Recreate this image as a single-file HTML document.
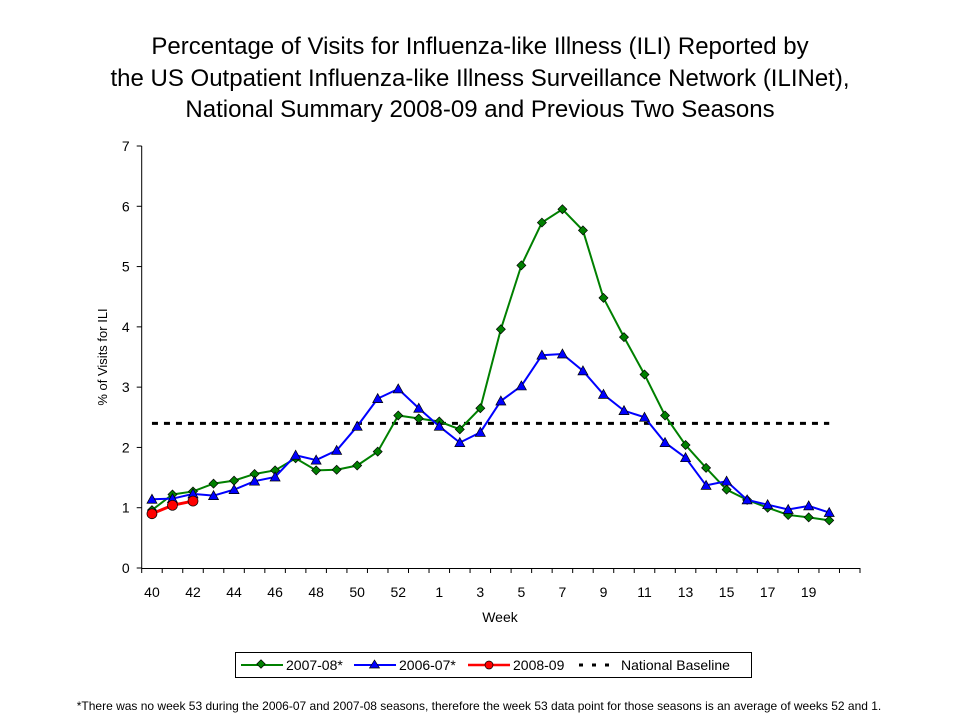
<!DOCTYPE html>
<html><head><meta charset="utf-8"><style>
body{margin:0;background:#fff;font-family:"Liberation Sans",Arial,sans-serif}
svg text{font-family:"Liberation Sans",Arial,sans-serif}
</style></head><body>
<svg id="chart" width="960" height="720">
<text x="480" y="54" font-size="24" text-anchor="middle">Percentage of Visits for Influenza-like Illness (ILI) Reported by</text>
<text x="480" y="86" font-size="24" text-anchor="middle">the US Outpatient Influenza-like Illness Surveillance Network (ILINet),</text>
<text x="480" y="117" font-size="24" text-anchor="middle">National Summary 2008-09 and Previous Two Seasons</text>
<g id="axes"></g>
<g id="marks"></g>
<text x="500" y="622" font-size="14" text-anchor="middle">Week</text>
<text transform="translate(107,357) rotate(-90)" font-size="13" text-anchor="middle">% of Visits for ILI</text>
<g>
<rect x="235.5" y="652.5" width="516" height="25" fill="#fff" stroke="#000"/>
<line x1="241" y1="665" x2="283" y2="665" stroke="#008000" stroke-width="2"/>
<rect x="258" y="661" width="6" height="6" fill="#008000" stroke="#000" stroke-width="0.7" transform="rotate(45 261 664)"/>
<text x="286" y="670" font-size="14">2007-08*</text>
<line x1="354" y1="665" x2="396" y2="665" stroke="#0000ff" stroke-width="2"/>
<polygon points="374.5,660 369.5,668 379.5,668" fill="#0000ff" stroke="#000" stroke-width="0.7"/>
<text x="399" y="670" font-size="14">2006-07*</text>
<line x1="468" y1="665" x2="510" y2="665" stroke="#ff0000" stroke-width="2.5"/>
<circle cx="489" cy="665" r="4" fill="#ff0000" stroke="#000" stroke-width="0.7"/>
<text x="513" y="670" font-size="14">2008-09</text>
<line x1="579" y1="665" x2="617" y2="665" stroke="#000" stroke-width="3" stroke-dasharray="4,9"/>
<text x="621" y="670" font-size="14">National Baseline</text>
</g>
<text x="479" y="710" font-size="12" text-anchor="middle">*There was no week 53 during the 2006-07 and 2007-08 seasons, therefore the week 53 data point for those seasons is an average of weeks 52 and 1.</text>
</svg>
<script>
const weeks=[40,41,42,43,44,45,46,47,48,49,50,51,52,53,1,2,3,4,5,6,7,8,9,10,11,12,13,14,15,16,17,18,19,20];
const season0708=[0.96,1.22,1.27,1.40,1.45,1.56,1.62,1.82,1.62,1.63,1.70,1.93,2.53,2.48,2.43,2.30,2.65,3.96,5.02,5.73,5.95,5.60,4.48,3.83,3.21,2.53,2.04,1.66,1.30,1.13,1.00,0.88,0.84,0.79];
const season0607=[1.14,1.15,1.23,1.20,1.30,1.44,1.51,1.87,1.79,1.95,2.35,2.81,2.97,2.65,2.35,2.08,2.25,2.77,3.02,3.53,3.55,3.27,2.88,2.61,2.50,2.08,1.83,1.37,1.44,1.13,1.05,0.97,1.03,0.92];
const season0809=[0.90,1.04,1.11];
const baseline=2.4;
const yTicks=[0,1,2,3,4,5,6,7];
const nCats=35, plotLeft=141.7, plotRight=860, plotTop=146, plotBottom=568, yMax=7;
const cw=(plotRight-plotLeft)/nCats;
const X=i=>plotLeft+(i+0.5)*cw;
const Y=v=>plotBottom-(v/yMax)*(plotBottom-plotTop);
const NS="http://www.w3.org/2000/svg";
const axesG=document.getElementById('axes'), marksG=document.getElementById('marks');
function mk(tag,attrs,parent){const e=document.createElementNS(NS,tag);for(const k in attrs)e.setAttribute(k,attrs[k]);parent.appendChild(e);return e;}
let el=mk('line',{x1:plotLeft,y1:plotTop,x2:plotLeft,y2:plotBottom,stroke:'#000'},axesG);


el=mk('line',{x1:plotLeft,y1:plotBottom+0.5,x2:plotRight,y2:plotBottom+0.5,stroke:'#000'},axesG);


yTicks.forEach(t=>{
  mk('line',{x1:plotLeft-5,y1:Y(t),x2:plotLeft,y2:Y(t),stroke:'#000'},axesG);
  const tx=mk('text',{x:plotLeft-12,y:Y(t)+5,'font-size':14,'text-anchor':'end'},axesG);
  tx.textContent=t;
  
  
});
for(let i=0;i<=nCats;i++){mk('line',{x1:plotLeft+i*cw,y1:plotBottom,x2:plotLeft+i*cw,y2:plotBottom+5,stroke:'#000'},axesG);}
weeks.forEach((w,i)=>{if(i%2===0){
  const tx=mk('text',{x:X(i),y:plotBottom+29,'font-size':14,'text-anchor':'middle'},axesG);
  tx.textContent=w;
  
  
}});
el=mk('line',{x1:X(0),y1:Y(baseline),x2:X(weeks.length-1),y2:Y(baseline),stroke:'#000','stroke-width':3,'stroke-dasharray':'6,6'},marksG);


function series(vals,color,shape,name,sw){
  const p=mk('polyline',{points:vals.map((v,i)=>X(i)+','+Y(v)).join(' '),fill:'none',stroke:color,'stroke-width':sw},marksG);
  
  
  vals.forEach((v,i)=>{
    const x=X(i),y=Y(v);let m;
    if(shape==='d')m=mk('polygon',{points:`${x},${y-4.5} ${x+4.5},${y} ${x},${y+4.5} ${x-4.5},${y}`,fill:color,stroke:'#000','stroke-width':0.7},marksG);
    else if(shape==='t')m=mk('polygon',{points:`${x},${y-5} ${x-5},${y+4} ${x+5},${y+4}`,fill:color,stroke:'#000','stroke-width':0.7},marksG);
    else m=mk('circle',{cx:x,cy:y,r:5,fill:color,stroke:'#000','stroke-width':0.7},marksG);
    
    
  });
}
series(season0708,'#008000','d','season-2007-08',2);
series(season0607,'#0000ff','t','season-2006-07',2);
series(season0809,'#ff0000','c','season-2008-09',3);
</script>
</body></html>
